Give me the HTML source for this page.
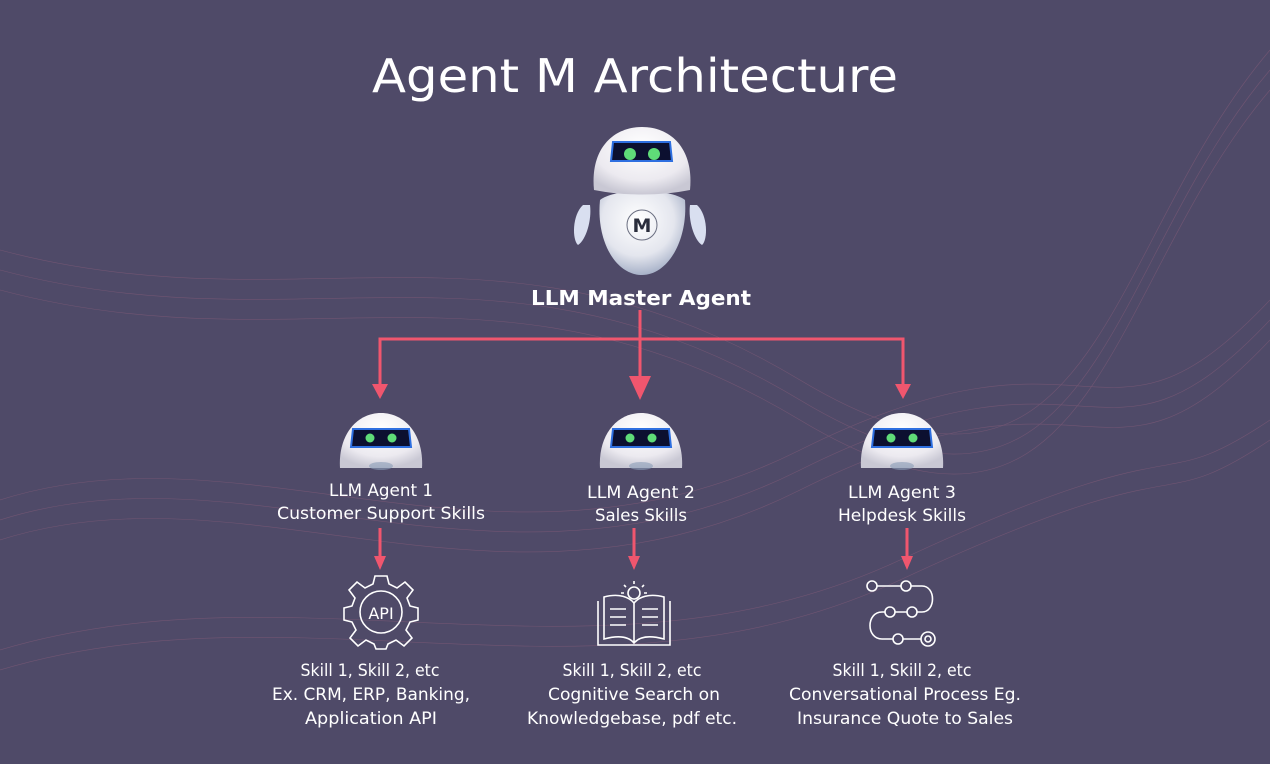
<!DOCTYPE html>
<html><head><meta charset="utf-8"><style>
html,body{margin:0;padding:0;}
body{width:1270px;height:760px;overflow:hidden;background:#4f4a68;font-family:"DejaVu Sans",sans-serif;}
</style></head><body>
<svg width="1270" height="760" viewBox="0 0 1270 760" xmlns="http://www.w3.org/2000/svg">
<defs>
<radialGradient id="hg" cx="50%" cy="30%" r="70%"><stop offset="0" stop-color="#ffffff"/><stop offset="0.7" stop-color="#eceaf0"/><stop offset="1" stop-color="#c9c8d4"/></radialGradient>
<radialGradient id="bg2" cx="45%" cy="35%" r="70%"><stop offset="0" stop-color="#ffffff"/><stop offset="0.6" stop-color="#e4e6ee"/><stop offset="1" stop-color="#9aa6c0"/></radialGradient>
<g id="head">
<path d="M-41,27 C-43,-5 -25,-28 0,-28 C25,-28 43,-5 41,27 Z" fill="url(#hg)"/>
<path d="M-28,-12 L28,-12 L30,6 L-30,6 Z" fill="#0c1030" stroke="#2e6fe0" stroke-width="2"/>
<circle cx="-11" cy="-3" r="4.5" fill="#5fdc78"/><circle cx="11" cy="-3" r="4.5" fill="#5fdc78"/>
<ellipse cx="0" cy="25" rx="12" ry="4" fill="#8a9cb8" opacity="0.6"/>
</g>
</defs>
<g stroke="#b06a86" stroke-width="0.6" fill="none" opacity="0.35">
<path d="M0,250 C300,330 500,200 800,380 S1100,250 1270,50"/>
<path d="M0,270 C300,350 500,220 800,400 S1100,270 1270,70"/>
<path d="M0,290 C300,370 500,240 800,420 S1100,290 1270,90"/>
<path d="M0,500 C250,420 500,600 800,450 S1100,480 1270,300"/>
<path d="M0,520 C250,440 500,620 800,470 S1100,500 1270,320"/>
<path d="M0,540 C250,460 500,640 800,490 S1100,520 1270,340"/>
<path d="M0,650 C300,560 600,700 900,560 S1150,500 1270,420"/>
<path d="M0,670 C300,580 600,720 900,580 S1150,520 1270,440"/>
</g>
<text x="635" y="92" text-anchor="middle" fill="#fff" font-size="46" font-family="DejaVu Sans,sans-serif" textLength="526" lengthAdjust="spacingAndGlyphs">Agent M Architecture</text>
<!-- master robot -->
<path d="M583,205 C572,215 572,240 578,245 C586,240 592,220 590,205 Z" fill="#d9dff0"/>
<path d="M697,205 C708,215 708,240 702,245 C694,240 688,220 690,205 Z" fill="#d9dff0"/>
<path d="M600,200 C596,240 615,275 642,275 C668,275 688,240 685,200 C670,188 615,188 600,200 Z" fill="url(#bg2)"/>
<path d="M594,190 C590,150 612,127 642,127 C672,127 694,150 690,190 C660,196 624,196 594,190 Z" fill="url(#hg)"/>
<path d="M613,142 L670,142 L672,161 L611,161 Z" fill="#0c1030" stroke="#2e6fe0" stroke-width="2"/>
<circle cx="630" cy="154" r="6" fill="#5fdc78"/><circle cx="654" cy="154" r="6" fill="#5fdc78"/>
<circle cx="642" cy="225" r="15" fill="none" stroke="#6a6e80" stroke-width="1"/>
<text x="642" y="232" text-anchor="middle" font-size="19" font-weight="bold" fill="#2a2d3c">M</text>
<text x="641" y="305" text-anchor="middle" fill="#fff" font-size="20" font-weight="bold" textLength="220" lengthAdjust="spacingAndGlyphs">LLM Master Agent</text>
<!-- connectors -->
<g stroke="#f0566e" stroke-width="3" fill="none">
<path d="M640,310 V380"/><path d="M380,386 V339 H903 V386"/>
<path d="M380,528 V558"/><path d="M634,528 V558"/><path d="M907,528 V558"/>
</g>
<g fill="#f0566e">
<path d="M629,376 L651,376 L640,400 Z"/>
<path d="M372,384 L388,384 L380,399 Z"/><path d="M895,384 L911,384 L903,399 Z"/>
<path d="M374,556 L386,556 L380,570 Z"/><path d="M628,556 L640,556 L634,570 Z"/><path d="M901,556 L913,556 L907,570 Z"/>
</g>
<use href="#head" x="381" y="441"/><use href="#head" x="641" y="441"/><use href="#head" x="902" y="441"/>
<g fill="#fff" font-size="16.5" text-anchor="middle">
<text x="381" y="496" textLength="104" lengthAdjust="spacingAndGlyphs">LLM Agent 1</text><text x="381" y="519" textLength="208" lengthAdjust="spacingAndGlyphs">Customer Support Skills</text>
<text x="641" y="498" textLength="108" lengthAdjust="spacingAndGlyphs">LLM Agent 2</text><text x="641" y="521" textLength="92" lengthAdjust="spacingAndGlyphs">Sales Skills</text>
<text x="902" y="498" textLength="108" lengthAdjust="spacingAndGlyphs">LLM Agent 3</text><text x="902" y="521" textLength="128" lengthAdjust="spacingAndGlyphs">Helpdesk Skills</text>
<text x="370" y="676" textLength="139" lengthAdjust="spacingAndGlyphs">Skill 1, Skill 2, etc</text><text x="371" y="700" textLength="198" lengthAdjust="spacingAndGlyphs">Ex. CRM, ERP, Banking,</text><text x="371" y="724" textLength="132" lengthAdjust="spacingAndGlyphs">Application API</text>
<text x="632" y="676" textLength="139" lengthAdjust="spacingAndGlyphs">Skill 1, Skill 2, etc</text><text x="634" y="700" textLength="172" lengthAdjust="spacingAndGlyphs">Cognitive Search on</text><text x="632" y="724" textLength="210" lengthAdjust="spacingAndGlyphs">Knowledgebase, pdf etc.</text>
<text x="902" y="676" textLength="139" lengthAdjust="spacingAndGlyphs">Skill 1, Skill 2, etc</text><text x="905" y="700" textLength="232" lengthAdjust="spacingAndGlyphs">Conversational Process Eg.</text><text x="905" y="724" textLength="216" lengthAdjust="spacingAndGlyphs">Insurance Quote to Sales</text>
</g>
<!-- icons -->
<g stroke="#fff" stroke-width="1.6" fill="none">
<g transform="translate(381,612)">
<path d="M-6,-36 L6,-36 L8,-28 L16,-24 L24,-30 L32,-22 L26,-14 L29,-6 L37,-4 L37,8 L29,10 L25,18 L31,26 L23,34 L15,28 L7,32 L5,37 L-5,37 L-7,32 L-15,28 L-23,34 L-31,26 L-25,18 L-29,10 L-37,8 L-37,-4 L-29,-6 L-26,-14 L-32,-22 L-24,-30 L-16,-24 L-8,-28 Z"/>
<circle r="21"/>
</g>
<g transform="translate(634,615)">
<path d="M-36,-14 V30 H36 V-14"/><path d="M-30,-18 C-15,-22 -5,-18 0,-12 C5,-18 15,-22 30,-18 V24 C15,20 5,22 0,28 C-5,22 -15,20 -30,24 Z"/><path d="M0,-12 V28"/>
<path d="M-24,-6 H-8 M-24,2 H-8 M-24,10 H-8 M8,-6 H24 M8,2 H24 M8,10 H24"/>
<circle cx="0" cy="-22" r="6"/><path d="M0,-34 V-31 M-10,-30 L-8,-28 M10,-30 L8,-28 M-13,-22 H-10 M13,-22 H10"/>
</g>
<g transform="translate(902,612)">
<circle cx="-30" cy="-26" r="5"/><circle cx="4" cy="-26" r="5"/><circle cx="-12" cy="0" r="5"/><circle cx="10" cy="0" r="5"/><circle cx="-4" cy="27" r="5"/><circle cx="26" cy="27" r="7"/><circle cx="26" cy="27" r="3"/>
<path d="M-25,-26 H-1 M9,-26 H20 C34,-26 34,0 20,0 H15 M5,0 H-7 M-17,0 H-20 C-36,0 -36,27 -20,27 H-9 M1,27 H19"/>
</g>
</g>
<text x="381" y="619" text-anchor="middle" fill="#fff" font-size="16">API</text>
</svg>
</body></html>
